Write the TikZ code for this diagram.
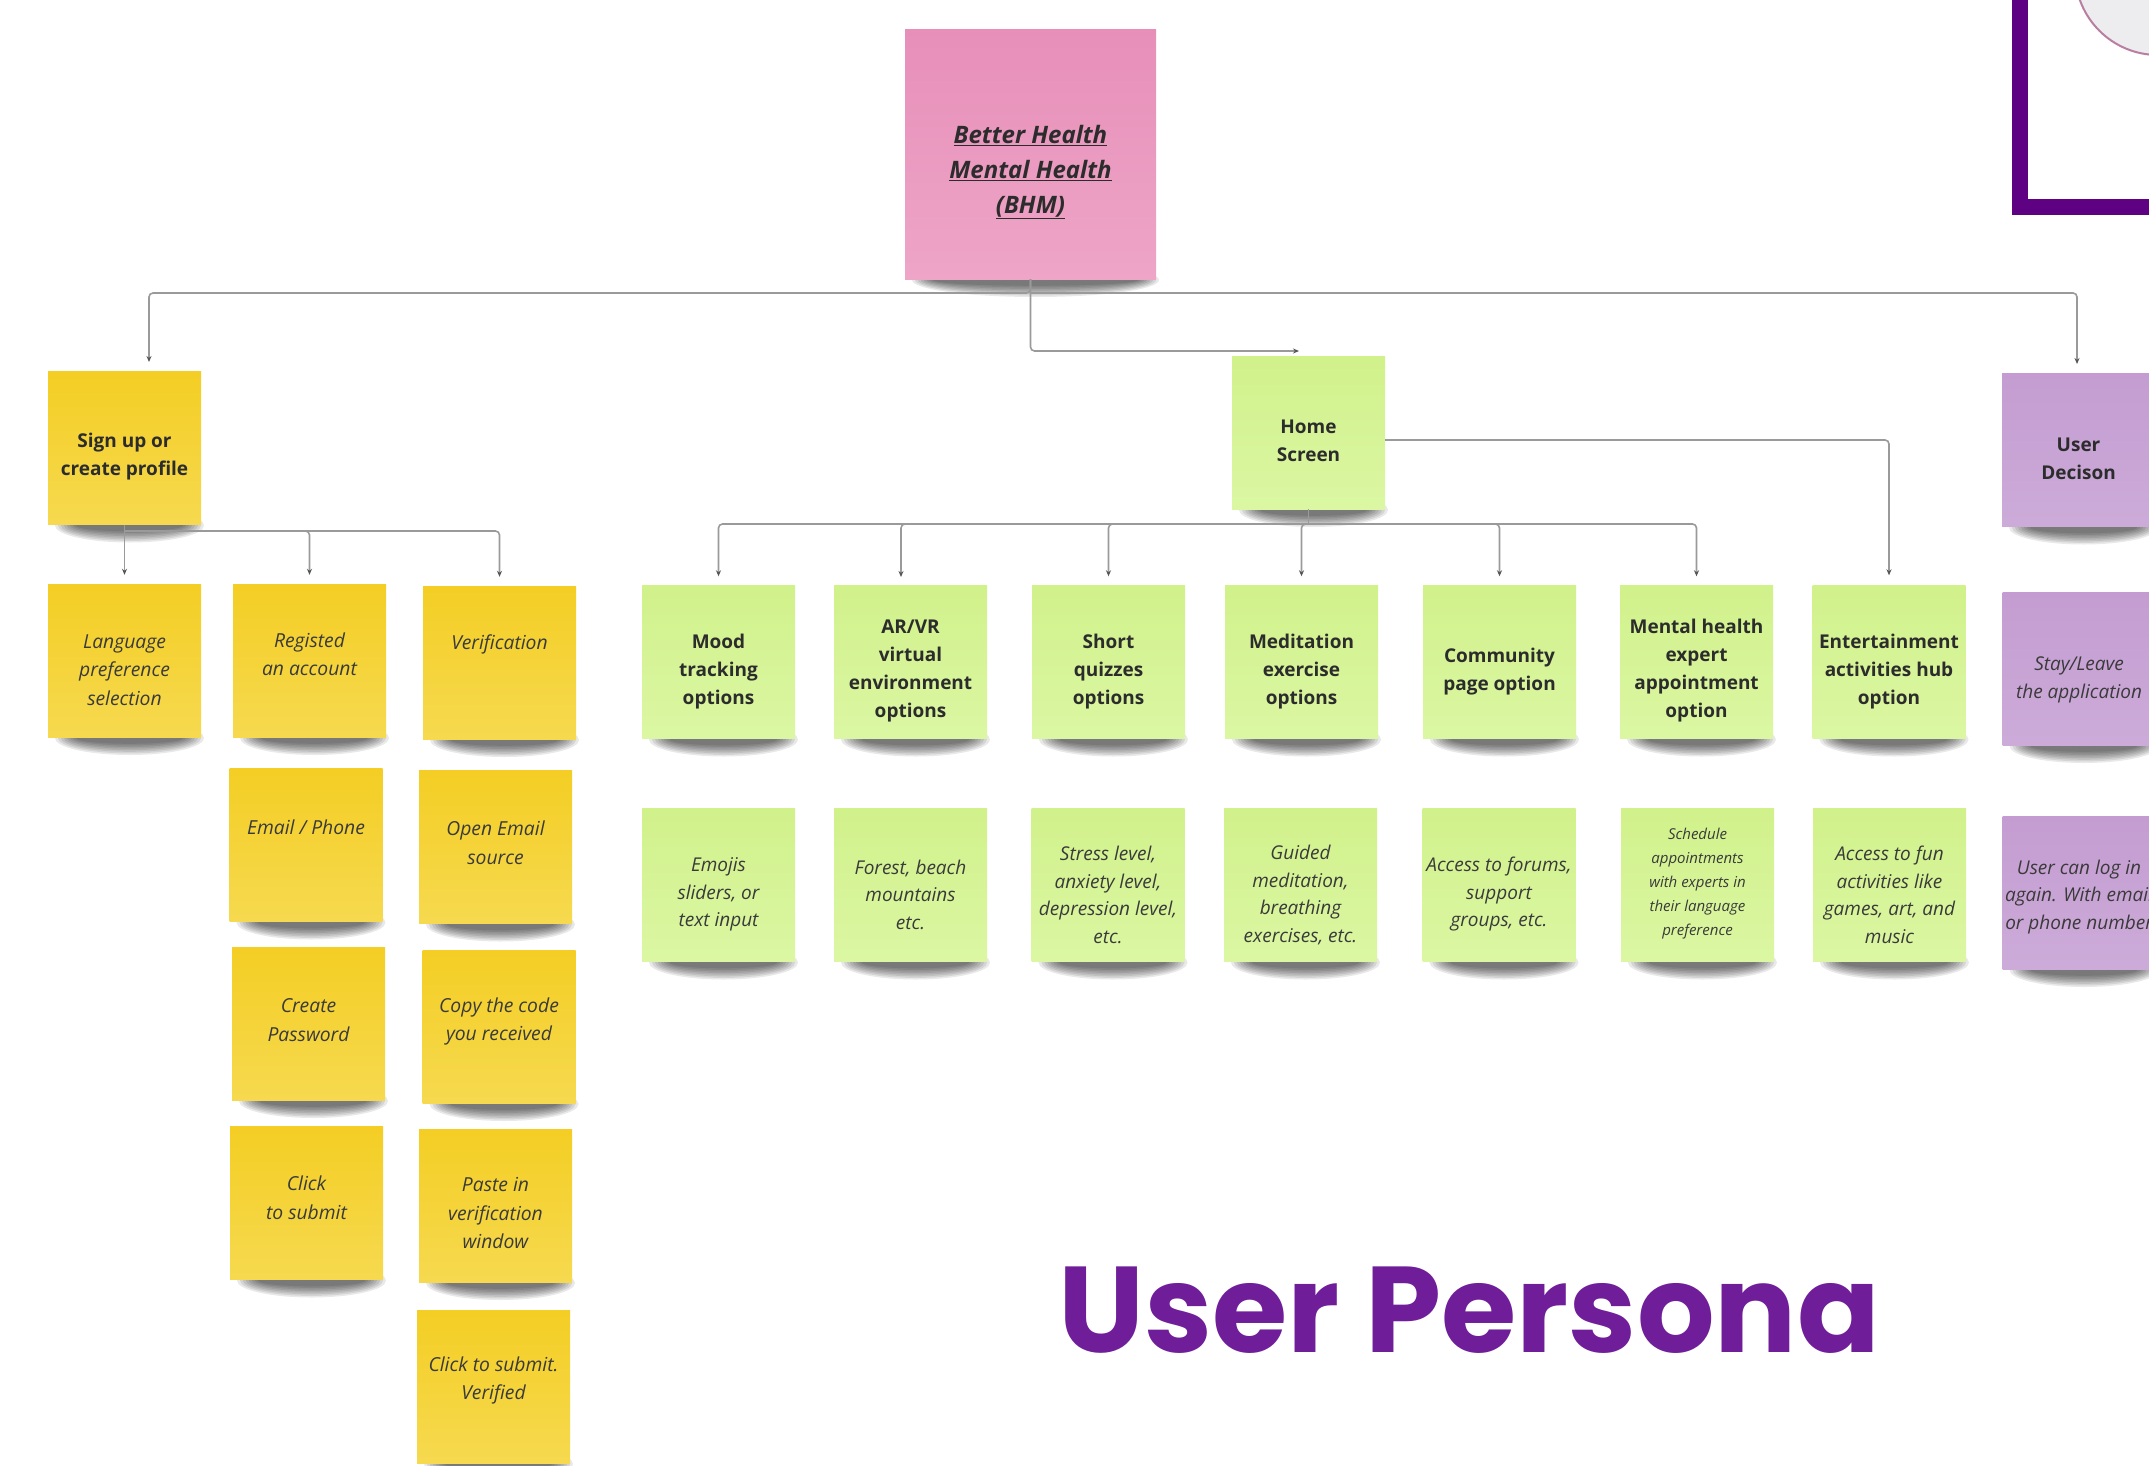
\documentclass[tikz,border=0pt]{standalone}
\usepackage{fontspec}
\setmainfont{Open Sans}
\newfontfamily\personafont{Poppins}
\usetikzlibrary{arrows.meta}

% sticky-note colours
\definecolor{pinkTop}{HTML}{E78FB9}
\definecolor{pinkBot}{HTML}{EEA5C7}
\definecolor{yellowTop}{HTML}{F4CE24}
\definecolor{yellowBot}{HTML}{F6D94F}
\definecolor{greenTop}{HTML}{D1F18B}
\definecolor{greenBot}{HTML}{DBF7A3}
\definecolor{lilacTop}{HTML}{C49CD1}
\definecolor{lilacBot}{HTML}{CCABD9}
\definecolor{inkDark}{HTML}{2C2C2C}
\definecolor{inkSoft}{HTML}{3A3A3A}
\definecolor{wireGrey}{HTML}{9A9A9A}
\definecolor{tipGrey}{HTML}{555555}
\definecolor{framePurple}{HTML}{5E0182}
\definecolor{personaPurple}{HTML}{6F1D99}
\definecolor{photoFill}{HTML}{EDEDEF}
\definecolor{photoRim}{HTML}{B87FA0}

\newcommand\headfont{\bfseries\fontsize{19}{28}\selectfont}
\newcommand\descfont{\itshape\fontsize{19}{27.5}\selectfont}
\newcommand\yelfont{\itshape\fontsize{19.3}{28.5}\selectfont}
\newcommand\tinyfont{\itshape\fontsize{15}{24}\selectfont}
\newcommand\bhmfont{\bfseries\itshape\fontsize{24}{35}\selectfont}

% soft curled-note shadow under a box: centre x, bottom y, half width
\newcommand\noteshadow[3]{%
  \foreach \k in {0,...,7}
    \fill[shadowlayer] ({#1+5},{#2+1}) ellipse ({#3-2-3*\k} and {17-1.6*\k});
}

% box + its text: name, colour style, x, y, text style, text y, text
\newcommand\sticky[7]{%
  \noteshadow{#3}{#4+76.5}{76.5}
  \node[#2] (#1) at (#3,#4) {};
  \node[#5] (#1-t) at (#3,#6) {#7};
}

\tikzset{
  shadowlayer/.style={black, opacity=0.085},
  note/.style={minimum width=153pt, minimum height=153pt, inner sep=0pt},
  pinknote/.style={note, top color=pinkTop, bottom color=pinkBot},
  yellownote/.style={note, top color=yellowTop, bottom color=yellowBot},
  greennote/.style={note, top color=greenTop, bottom color=greenBot},
  lilacnote/.style={note, top color=lilacTop, bottom color=lilacBot},
  headtxt/.style={font=\headfont, text=inkDark, align=center, inner sep=0pt},
  desctxt/.style={font=\descfont, text=inkSoft, align=center, inner sep=0pt},
  yeltxt/.style={font=\yelfont, text=inkSoft, align=center, inner sep=0pt},
  tinytxt/.style={font=\tinyfont, text=inkSoft, align=center, inner sep=0pt},
  wire/.style={draw=wireGrey, line width=1.6pt, rounded corners=4pt,
    -{Stealth[length=6pt,width=5pt,color=tipGrey]}},
  plainwire/.style={draw=wireGrey, line width=1.6pt, rounded corners=4pt},
}

\begin{document}
\begin{tikzpicture}[x=1pt,y=-1pt]
\useasboundingbox (0,0) rectangle (2149,1466);
\clip (0,0) rectangle (2149,1466);
\fill[white] (0,0) rectangle (2149,1466);

% framed portrait in the top-right corner
\draw[line width=2pt, draw=photoRim, fill=photoFill] (2158,-28) circle (83);
\draw[line width=16pt, draw=framePurple] (2020,207) rectangle (2320,-60);

% root
\noteshadow{1030.5}{279}{125.5}
\node[pinknote, minimum width=251pt, minimum height=249pt] (bhm) at (1030.5,154.5) {};
\node[font=\bhmfont, text=inkDark, align=center, inner sep=0pt] (bhm-t) at (1030.5,172)
  {\underline{Better Health}\\\underline{Mental Health}\\\underline{(BHM)}};

% first level
\sticky{signup}{yellownote}{124.5}{448}{headtxt}{457}{Sign up or\\create profile}
\sticky{home}{greennote}{1308.5}{432.5}{headtxt}{440.5}{Home\\Screen}
\sticky{decision}{lilacnote}{2078.5}{450}{headtxt}{459}{User\\Decison}

% sign-up branch
\sticky{lang}{yellownote}{124.5}{660.5}{yeltxt}{670}{Language\\preference\\selection}
\sticky{register}{yellownote}{309.5}{660.5}{yeltxt}{654.5}{Registed\\an account}
\sticky{verify}{yellownote}{499.5}{662.5}{yeltxt}{644}{Verification}
\sticky{email}{yellownote}{306}{845}{yeltxt}{827}{Email / Phone}
\sticky{password}{yellownote}{308.5}{1023.5}{yeltxt}{1020}{Create\\Password}
\sticky{submit}{yellownote}{306.5}{1203}{yeltxt}{1197.5}{Click\\to submit}
\sticky{openmail}{yellownote}{495.5}{847}{yeltxt}{843}{Open Email\\source}
\sticky{copycode}{yellownote}{499}{1026.5}{yeltxt}{1021.5}{Copy the code\\you received}
\sticky{paste}{yellownote}{495.5}{1205.5}{yeltxt}{1213}{Paste in\\verification\\window}
\sticky{verified}{yellownote}{493.5}{1386.5}{yeltxt}{1380.5}{Click to submit.\\Verified}

% home-screen features
\sticky{mood}{greennote}{718.5}{662}{headtxt}{672}{Mood\\tracking\\options}
\sticky{arvr}{greennote}{910.5}{662}{headtxt}{671}{AR/VR\\virtual\\environment\\options}
\sticky{quiz}{greennote}{1108.5}{662}{headtxt}{672}{Short\\quizzes\\options}
\sticky{medit}{greennote}{1301.5}{662}{headtxt}{672}{Meditation\\exercise\\options}
\sticky{community}{greennote}{1499.5}{662}{headtxt}{671.5}{Community\\page option}
\sticky{expert}{greennote}{1696.5}{662}{headtxt}{671}{Mental health\\expert\\appointment\\option}
\sticky{fun}{greennote}{1889}{662}{headtxt}{672}{Entertainment\\activities hub\\option}

% feature details
\sticky{moodD}{greennote}{718.5}{885}{desctxt}{894.5}{Emojis\\sliders, or\\text input}
\sticky{arvrD}{greennote}{910.5}{885}{desctxt}{894.5}{Forest, beach\\mountains\\etc.}
\sticky{quizD}{greennote}{1108}{885}{desctxt}{895}{Stress level,\\anxiety level,\\depression level,\\etc.}
\sticky{meditD}{greennote}{1300.5}{885}{desctxt}{895}{Guided\\meditation,\\breathing\\exercises, etc.}
\sticky{communityD}{greennote}{1499}{885}{desctxt}{894.5}{Access to forums,\\support\\groups, etc.}
\sticky{expertD}{greennote}{1697.5}{885}{tinytxt}{884}{Schedule\\appointments\\with experts in\\their language\\preference}
\sticky{funD}{greennote}{1889.5}{885}{desctxt}{895}{Access to fun\\activities like\\games, art, and\\music}

% user decision details
\sticky{stay}{lilacnote}{2079}{668.5}{desctxt}{680}{Stay/Leave\\the application}
\sticky{relog}{lilacnote}{2079}{892.5}{desctxt}{897}{User can log in\\again. With email\\or phone number}

% connector rails
\coordinate (rootRail) at (0,293);
\coordinate (signRail) at (0,531);
\coordinate (homeRail) at (0,524);
\coordinate (signupIn) at (149,362);
\coordinate (decisionIn) at (2077,364);
\coordinate (homeIn) at (1299,351);
\coordinate (arvrIn) at (901,577);

% root connectors
\draw[wire] (bhm.south) -- (bhm.south |- rootRail) -| (signupIn);
\draw[wire] (bhm.south |- rootRail) -| (decisionIn);
\draw[wire] (bhm.south) |- (homeIn);

% sign-up connectors
\draw[wire] (signup.south) -- ([yshift=9pt]lang.north);
\draw[wire] (signup.south |- signRail) -| ([yshift=9pt]register.north);
\draw[wire] (signup.south |- signRail) -| ([yshift=9pt]verify.north);

% home-screen connectors
\draw[plainwire] (home.south) -- (home.south |- homeRail);
\draw[wire] (home.south |- homeRail) -| ([yshift=9pt]mood.north);
\draw[wire] (home.south |- homeRail) -| (arvrIn);
\draw[wire] (home.south |- homeRail) -| ([yshift=9pt]quiz.north);
\draw[wire] (home.south |- homeRail) -| ([yshift=9pt]medit.north);
\draw[wire] (home.south |- homeRail) -| ([yshift=9pt]community.north);
\draw[wire] (home.south |- homeRail) -| ([yshift=9pt]expert.north);
\draw[wire] ([yshift=-7.5pt]home.east) -| ([yshift=10pt]fun.north);

% heading
\node[font=\personafont\bfseries\fontsize{122}{130}\selectfont, text=personaPurple,
  anchor=base, inner sep=0pt] (persona) at (1469,1352) {User Persona};
\end{tikzpicture}
\end{document}
